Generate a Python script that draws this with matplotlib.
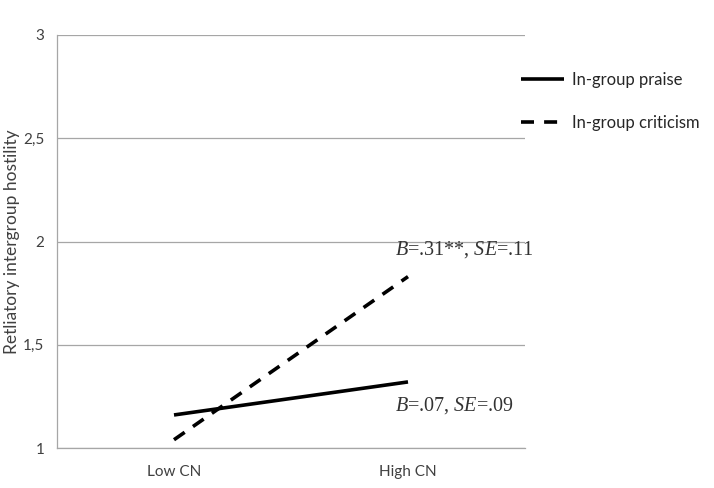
import matplotlib.pyplot as plt

# data
groups = ["Low CN", "High CN"]
praise = [1.16, 1.32]
criticism = [1.04, 1.83]
yticks = [1, 1.5, 2, 2.5, 3]
ytick_labels = ["1", "1,5", "2", "2,5", "3"]

plt.rcParams['font.family'] = ['Lato', 'DejaVu Sans']
plt.rcParams['mathtext.fontset'] = 'custom'
plt.rcParams['mathtext.it'] = 'Liberation Serif:italic'
plt.rcParams['mathtext.rm'] = 'Liberation Serif'

fig = plt.figure(figsize=(7.14, 4.88), dpi=100)
ax = fig.add_axes([57/714, 1 - 448/488, 468/714, 413/488])

x = list(range(len(groups)))
ax.plot(x, praise, color='black', lw=2.6, solid_capstyle='butt', label="In-group praise")
ax.plot(x, criticism, color='black', lw=2.6, dashes=(3.6, 2.8), label="In-group criticism")

ax.set_xlim(-0.5, len(groups) - 0.5)
ax.set_ylim(1, 3)
ax.set_xticks(x)
ax.set_xticklabels(groups, fontsize=11, color='#404040')
ax.set_yticks(yticks)
ax.set_yticklabels(ytick_labels, fontsize=11, color='#404040')
ax.tick_params(axis='x', length=0, pad=12)
ax.tick_params(axis='y', length=0, pad=9)
ax.grid(axis='y', color='#a6a6a6', lw=0.9)
ax.set_axisbelow(True)
for s in ['top', 'right']:
    ax.spines[s].set_visible(False)
for s in ['left', 'bottom']:
    ax.spines[s].set_color('#a6a6a6')
    ax.spines[s].set_linewidth(0.9)

ax.set_ylabel("Retliatory intergroup hostility", fontsize=12.5, color='#404040')
ax.yaxis.set_label_coords(-37/468, 0.5)

ax.text(0.945, 2.01, r"$B$=.31**, $SE$=.11", fontsize=14.5, family='Liberation Serif',
        color='#333333', va='top', ha='left')
ax.text(0.945, 1.255, r"$B$=.07, $SE$=.09", fontsize=14.5, family='Liberation Serif',
        color='#333333', va='top', ha='left')

fig.legend(loc='upper left', bbox_to_anchor=(521/714, 1 - 72/488), frameon=False,
           fontsize=12, handlelength=2.6, handletextpad=0.45, labelspacing=1.6,
           borderpad=0, borderaxespad=0, labelcolor='#262626')

fig.savefig("out.png", dpi=100)
